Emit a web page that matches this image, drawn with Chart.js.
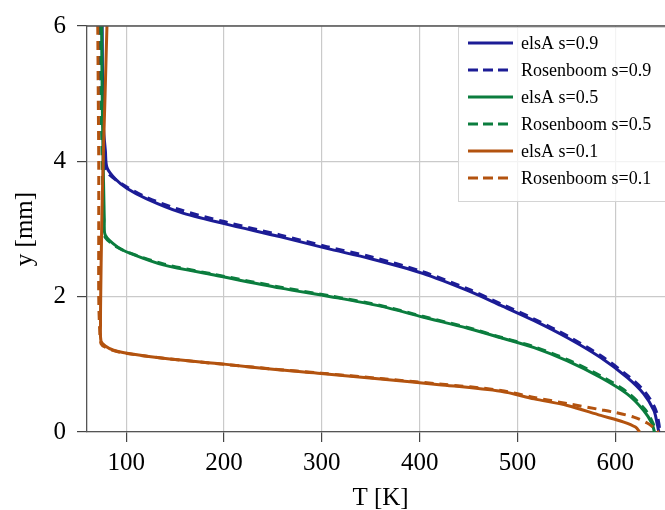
<!DOCTYPE html>
<html lang="en">
<head>
    <meta charset="UTF-8">
    <style>
        * {
            margin: 0;
            padding: 0;
            box-sizing: border-box;
        }
        body {
            background-color: white;
            overflow: hidden;
            width: 665px;
            height: 510px;
        }
    </style>
</head>
<body>
    <canvas id="myChart" width="690" height="510"></canvas>

    <script src="https://cdn.jsdelivr.net/npm/chart.js"></script>
    <script>
        // tick labels
        const xTicks = [100, 200, 300, 400, 500, 600];
        const yTicks = [0, 2, 4, 6];

        const seriesNames = ["elsA s=0.9", "Rosenboom s=0.9", "elsA s=0.5", "Rosenboom s=0.5", "elsA s=0.1", "Rosenboom s=0.1"];

        // s = 0.9
        const tElsA09 = [75.5, 76.0, 76.8, 78.8, 80.4, 89, 101, 121, 155, 200, 258, 305, 350, 403, 450, 483, 517, 551, 585, 612, 629, 639.4, 642.8, 644.5];
        const yElsA09 = [6.0, 5.0, 4.5, 4.155, 3.91, 3.74, 3.60, 3.446, 3.25, 3.08, 2.884, 2.713, 2.56, 2.345, 2.085, 1.87, 1.645, 1.393, 1.10, 0.806, 0.563, 0.318, 0.123, 0.0];
        const tRos09 = [73, 74, 75.5, 77.5, 80, 90, 102, 122, 156, 200, 258, 305, 350, 403, 450, 483, 517, 551, 585, 612, 630, 641, 644.5, 645.5];
        const yRos09 = [6.0, 5.0, 4.4, 4.0, 3.85, 3.72, 3.61, 3.46, 3.28, 3.11, 2.91, 2.74, 2.59, 2.37, 2.11, 1.895, 1.67, 1.42, 1.13, 0.84, 0.60, 0.34, 0.13, 0.0];

        // s = 0.5
        const tElsA05 = [75, 75.5, 76.5, 77.3, 77.7, 78.7, 90.7, 104.3, 138, 190, 258, 309, 360, 403, 450, 483, 517, 551, 585, 612, 629, 637.6, 640];
        const yElsA05 = [6.0, 5.0, 4.0, 3.4, 3.15, 2.91, 2.74, 2.64, 2.47, 2.32, 2.126, 2.0, 1.86, 1.70, 1.53, 1.393, 1.246, 1.05, 0.806, 0.563, 0.318, 0.123, 0.0];
        const tRos05 = [74, 74.5, 75.5, 76.5, 77, 78.5, 91, 105, 139, 190, 258, 309, 360, 403, 450, 483, 517, 551, 585, 612, 630, 638.5, 641];
        const yRos05 = [6.0, 5.0, 4.0, 3.3, 3.05, 2.88, 2.73, 2.64, 2.48, 2.33, 2.14, 2.01, 1.87, 1.71, 1.54, 1.40, 1.26, 1.07, 0.83, 0.59, 0.34, 0.13, 0.0];

        // s = 0.1
        const tElsA01 = [80.4, 78.5, 76.5, 75, 74, 73.8, 74.3, 78.7, 87.2, 100.9, 138, 200, 258, 299, 360, 420, 483, 517, 551, 585, 608.7, 620.6, 625];
        const yElsA01 = [6.0, 5.0, 4.0, 3.0, 2.0, 1.6, 1.345, 1.271, 1.208, 1.164, 1.09, 1.003, 0.915, 0.865, 0.783, 0.70, 0.601, 0.49, 0.391, 0.245, 0.147, 0.073, 0.0];
        const tRos01 = [71, 71.5, 72, 72, 72, 73, 74.5, 79, 88, 101, 138, 200, 258, 299, 360, 420, 483, 517, 551, 585, 598.5, 618.9, 632.6, 642.8, 644];
        const yRos01 = [6.0, 5.0, 4.0, 3.0, 2.0, 1.5, 1.3, 1.25, 1.2, 1.16, 1.09, 1.0, 0.92, 0.87, 0.79, 0.71, 0.615, 0.51, 0.42, 0.33, 0.293, 0.22, 0.132, 0.025, 0.0];

        const colors = ["#1c1c96", "#1c1c96", "#0b7d3e", "#0b7d3e", "#b3530f", "#b3530f"];
        const tSeries = [tElsA09, tRos09, tElsA05, tRos05, tElsA01, tRos01];
        const ySeries = [yElsA09, yRos09, yElsA05, yRos05, yElsA01, yRos01];

        const fontFamily = "'Liberation Serif', 'Times New Roman', serif";
        Chart.defaults.font.family = fontFamily;
        Chart.defaults.color = "#000";

        const datasets = seriesNames.map((name, i) => ({
            label: name,
            data: tSeries[i].map((t, k) => ({ x: t, y: ySeries[i][k] })),
            borderColor: colors[i],
            backgroundColor: colors[i],
            borderWidth: 3,
            borderDash: i % 2 === 1 ? [9, 6] : [],
            pointRadius: 0,
            showLine: true,
            tension: 0.3,
            order: 6 - i
        }));

        // box legend inside the plot, top right, pgfplots style
        const boxLegend = {
            id: "boxLegend",
            afterDraw(chart) {
                const ctx = chart.ctx;
                const area = chart.chartArea;
                ctx.save();
                // top frame line
                ctx.strokeStyle = "#555";
                ctx.lineWidth = 1.3;
                ctx.beginPath();
                ctx.moveTo(area.left, area.top);
                ctx.lineTo(area.right, area.top);
                ctx.stroke();

                const bx = area.right - 216, by = area.top + 1, bw = 212, bh = 174;
                ctx.fillStyle = "rgba(255,255,255,0.78)";
                ctx.fillRect(bx, by, bw, bh);
                ctx.strokeStyle = "#d4d4d4";
                ctx.lineWidth = 1;
                ctx.strokeRect(bx + 0.5, by + 0.5, bw, bh);

                ctx.font = "18px " + fontFamily;
                ctx.textBaseline = "middle";
                ctx.textAlign = "left";
                chart.data.datasets.forEach((ds, i) => {
                    const ry = by + 16 + i * 27;
                    ctx.strokeStyle = ds.borderColor;
                    ctx.lineWidth = 3;
                    ctx.setLineDash(ds.borderDash.length ? [10, 5] : []);
                    ctx.beginPath();
                    ctx.moveTo(bx + 10, ry);
                    ctx.lineTo(bx + 55, ry);
                    ctx.stroke();
                    ctx.setLineDash([]);
                    ctx.fillStyle = "#000";
                    ctx.fillText(ds.label, bx + 63, ry + 1);
                });
                ctx.restore();
            }
        };

        new Chart("myChart", {
            type: "scatter",
            data: { datasets: datasets },
            options: {
                responsive: false,
                animation: false,
                layout: {
                    padding: { top: 22, right: 16, left: 0, bottom: 0 }
                },
                plugins: {
                    legend: { display: false },
                    tooltip: { enabled: false }
                },
                scales: {
                    x: {
                        type: "linear",
                        min: 60,
                        max: 660,
                        afterBuildTicks: (scale) => { scale.ticks = xTicks.map(v => ({ value: v })); },
                        afterFit: (scale) => { scale.height = 78; },
                        ticks: {
                            font: { size: 25 },
                            padding: 6,
                            maxRotation: 0
                        },
                        grid: {
                            color: "#cacaca",
                            lineWidth: 1.2,
                            tickColor: "#444",
                            tickLength: 10
                        },
                        border: { color: "#555", width: 1.3 },
                        title: {
                            display: true,
                            text: "T [K]",
                            font: { size: 25 },
                            padding: { top: 0, bottom: -3 }
                        }
                    },
                    y: {
                        type: "linear",
                        min: 0,
                        max: 6,
                        afterBuildTicks: (scale) => { scale.ticks = yTicks.map(v => ({ value: v })); },
                        afterFit: (scale) => { scale.width = 87; },
                        ticks: {
                            font: { size: 25 },
                            padding: 11
                        },
                        grid: {
                            color: "#cacaca",
                            lineWidth: 1.2,
                            tickColor: "#444",
                            tickLength: 10
                        },
                        border: { color: "#555", width: 1.3 },
                        title: {
                            display: true,
                            text: "y [mm]",
                            font: { size: 25 },
                            padding: { top: 10, bottom: 0 }
                        }
                    }
                }
            },
            plugins: [boxLegend]
        });
    </script>
</body>
</html>
